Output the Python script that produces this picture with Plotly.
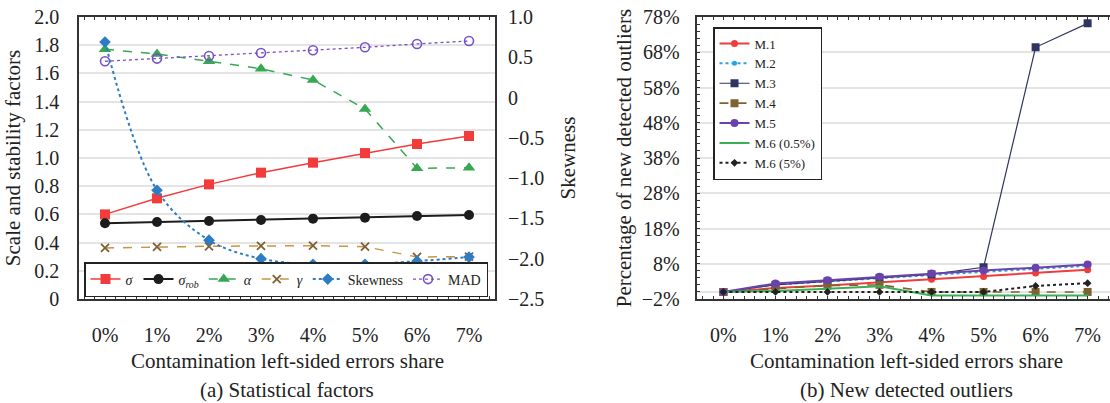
import plotly.graph_objects as go

# ---------------- data ----------------
shares = [0, 1, 2, 3, 4, 5, 6, 7]
share_labels = ["0%", "1%", "2%", "3%", "4%", "5%", "6%", "7%"]

# (a) statistical factors
sigma = [0.60, 0.714, 0.813, 0.896, 0.967, 1.035, 1.099, 1.156]
sigma_rob = [0.537, 0.546, 0.553, 0.560, 0.570, 0.577, 0.589, 0.596]
alpha = [1.771, 1.738, 1.686, 1.633, 1.553, 1.348, 0.927, 0.931]
gamma = [0.362, 0.369, 0.374, 0.376, 0.378, 0.371, 0.298, 0.300]
skewness = [0.69, -1.15, -1.77, -2.00, -2.07, -2.07, -2.03, -1.98]
mad = [1.686, 1.705, 1.723, 1.745, 1.764, 1.785, 1.809, 1.830]

left_ticks = [0, 0.2, 0.4, 0.6, 0.8, 1.0, 1.2, 1.4, 1.6, 1.8, 2.0]
left_ticktext = ["0", "0.2", "0.4", "0.6", "0.8", "1.0", "1.2", "1.4", "1.6", "1.8", "2.0"]
skew_ticks = [1.0, 0.5, 0, -0.5, -1.0, -1.5, -2.0, -2.5]
skew_ticktext = ["1.0", "0.5", "0", "\u22120.5", "\u22121.0", "\u22121.5", "\u22122.0", "\u22122.5"]

# (b) new detected outliers (%)
m1 = [0, 1.1, 1.8, 2.7, 3.6, 4.4, 5.35, 6.3]
m2 = [0, 2.1, 3.0, 4.0, 4.8, 5.7, 6.5, 7.4]
m3 = [0, 2.0, 3.0, 4.0, 5.0, 7.0, 69.4, 76.2]
m4 = [0, 0.9, 1.8, 2.0, 0, 0, 0, 0]
m5 = [0, 2.4, 3.3, 4.3, 5.2, 6.1, 6.9, 7.8]
m6_05 = [0, 0.3, 0.9, 1.6, -1.0, -1.0, -1.0, -1.0]
m6_5 = [0, 0, 0, 0, 0, 0, 1.7, 2.5]

x_title = "Contamination left-sided errors share"
captions = ["(a) Statistical factors", "(b) New detected outliers"]

FONT = "Liberation Serif, Times New Roman, serif"
TXT = "#222222"

fig = go.Figure()

def add(y, name, color, dash, symbol, size, lw, xaxis, yaxis, legend,
        shape="linear", mfill=None, mline=0, mcolor=None):
    fig.add_trace(go.Scatter(
        x=shares, y=y, name=name, mode="lines+markers",
        line=dict(color=color, dash=dash, width=lw, shape=shape),
        marker=dict(symbol=symbol, size=size,
                    color=mfill if mfill else (mcolor or color),
                    line=dict(width=mline, color=mcolor or color)),
        xaxis=xaxis, yaxis=yaxis, legend=legend))

# ---- left panel ----
add(sigma, "<i>σ</i>", "#f23b3b", "solid", "square", 10, 1.5, "x", "y", "legend")
add(sigma_rob, "<i>σ<sub>rob</sub></i>", "#1c1c1c", "solid", "circle", 10, 2, "x", "y", "legend")
add(alpha, "<i>α</i>", "#36a852", "dash", "triangle-up", 11, 1.5, "x", "y", "legend")
add(gamma, "<i>γ</i>", "#c8963e", "dash", "x-thin", 8, 1.5, "x", "y", "legend",
    mline=1.8, mcolor="#7e6035")
add(skewness, "Skewness", "#2e7cc4", "dot", "diamond", 9, 2, "x", "y2", "legend",
    shape="spline")
add(mad, "MAD", "#7a52c7", "dot", "circle-open", 9, 1.3, "x", "y", "legend",
    mline=1.6)

# ---- right panel ----
add(m1, "M.1", "#f03c3c", "solid", "circle", 7, 2, "x2", "y3", "legend2")
add(m2, "M.2", "#2aa4e0", "dot", "circle", 5, 2, "x2", "y3", "legend2")
add(m3, "M.3", "#2f3462", "solid", "square", 8, 1.2, "x2", "y3", "legend2")
add(m4, "M.4", "#7f6232", "dash", "square", 8, 1.6, "x2", "y3", "legend2")
add(m5, "M.5", "#6a42ad", "solid", "circle", 8, 2, "x2", "y3", "legend2")
add(m6_05, "M.6 (0.5%)", "#3aaf55", "solid", "circle", 2, 2, "x2", "y3", "legend2")
add(m6_5, "M.6 (5%)", "#222222", "dot", "diamond", 6, 2, "x2", "y3", "legend2")

W, H = 1110, 403
ML, MR, MT, MB = 0, 0, 17, 104
PH = H - MT - MB
tickfont = dict(family=FONT, size=20, color=TXT)
titlefont = dict(family=FONT, size=21, color=TXT)
LINE = "#333333"
GRID = "#e4e4e4"

xcommon = dict(
    tickvals=shares, ticktext=share_labels, range=[-0.5, 7.5],
    showline=True, linecolor=LINE, linewidth=1.5, mirror="allticks",
    ticks="inside", ticklen=3, tickcolor=LINE, showgrid=False, zeroline=False,
    tickfont=tickfont, ticklabelstandoff=17, automargin=False,
    minor=dict(dtick=0.2, tick0=0, ticks="inside", ticklen=3, tickcolor=LINE,
               showgrid=False),
)

L_DOM = [79 / W, 495 / W]
R_DOM = [697.4 / W, 1.0]
L_CENTER = 287 / W
R_CENTER = 906 / W

annotations = []
for cx, cap in zip([L_CENTER, R_CENTER], captions):
    annotations.append(dict(
        text=x_title, x=cx, y=(MT + PH - 361) / PH, xref="paper", yref="paper",
        xanchor="center", yanchor="middle", showarrow=False, font=titlefont))
    annotations.append(dict(
        text=cap, x=cx, y=(MT + PH - 390) / PH, xref="paper", yref="paper",
        xanchor="center", yanchor="middle", showarrow=False, font=titlefont))

fig.update_layout(
    width=W, height=H,
    margin=dict(l=ML, r=MR, t=MT, b=MB, autoexpand=False),
    paper_bgcolor="white", plot_bgcolor="white",
    font=dict(family=FONT, color=TXT),
    xaxis=dict(xcommon, domain=L_DOM, anchor="y"),
    yaxis=dict(
        domain=[0, 1], anchor="x", range=[0, 2.0],
        tickvals=left_ticks, ticktext=left_ticktext,
        showline=True, linecolor=LINE, linewidth=1.5, mirror=True,
        ticks="", showgrid=True, gridcolor=GRID, gridwidth=2, zeroline=False,
        tickfont=tickfont, ticklabelstandoff=14, automargin=False,
        title=dict(text="Scale and stability factors", font=titlefont, standoff=8),
    ),
    yaxis2=dict(
        overlaying="y", side="right", anchor="x", range=[-2.5, 1.0],
        tickvals=skew_ticks, ticktext=skew_ticktext,
        showline=False, ticks="", showgrid=False, zeroline=False,
        tickfont=tickfont, ticklabelstandoff=12, automargin=False,
        title=dict(text="Skewness", font=titlefont, standoff=17),
    ),
    xaxis2=dict(xcommon, domain=R_DOM, anchor="y3", range=[-0.5, 7.43]),
    yaxis3=dict(
        domain=[0, 1], anchor="x2", range=[-2, 78],
        tick0=-2, dtick=10, ticksuffix="%",
        showline=True, linecolor=LINE, linewidth=1.5, mirror=False,
        ticks="inside", ticklen=3, tickcolor=LINE,
        showgrid=True, gridcolor=GRID, gridwidth=2,
        zeroline=True, zerolinecolor=GRID, zerolinewidth=2,
        tickfont=tickfont, ticklabelstandoff=12, automargin=False,
        minor=dict(dtick=2, tick0=-2, ticks="inside", ticklen=3, tickcolor=LINE,
                   showgrid=False),
        title=dict(text="Percentage of new detected outliers", font=titlefont,
                   standoff=4),
    ),
    legend=dict(
        orientation="h", x=286 / W, xanchor="center", y=2 / PH, yanchor="bottom",
        bgcolor="white", bordercolor="#222222", borderwidth=1.5,
        font=dict(family=FONT, size=14, color=TXT), itemclick=False,
    ),
    legend2=dict(
        orientation="v", x=713 / W, xanchor="left", y=1 - 10 / PH, yanchor="top",
        bgcolor="white", bordercolor="#222222", borderwidth=1.5,
        font=dict(family=FONT, size=13, color=TXT), itemclick=False,
    ),
    annotations=annotations,
)

fig.write_html("out.html")
